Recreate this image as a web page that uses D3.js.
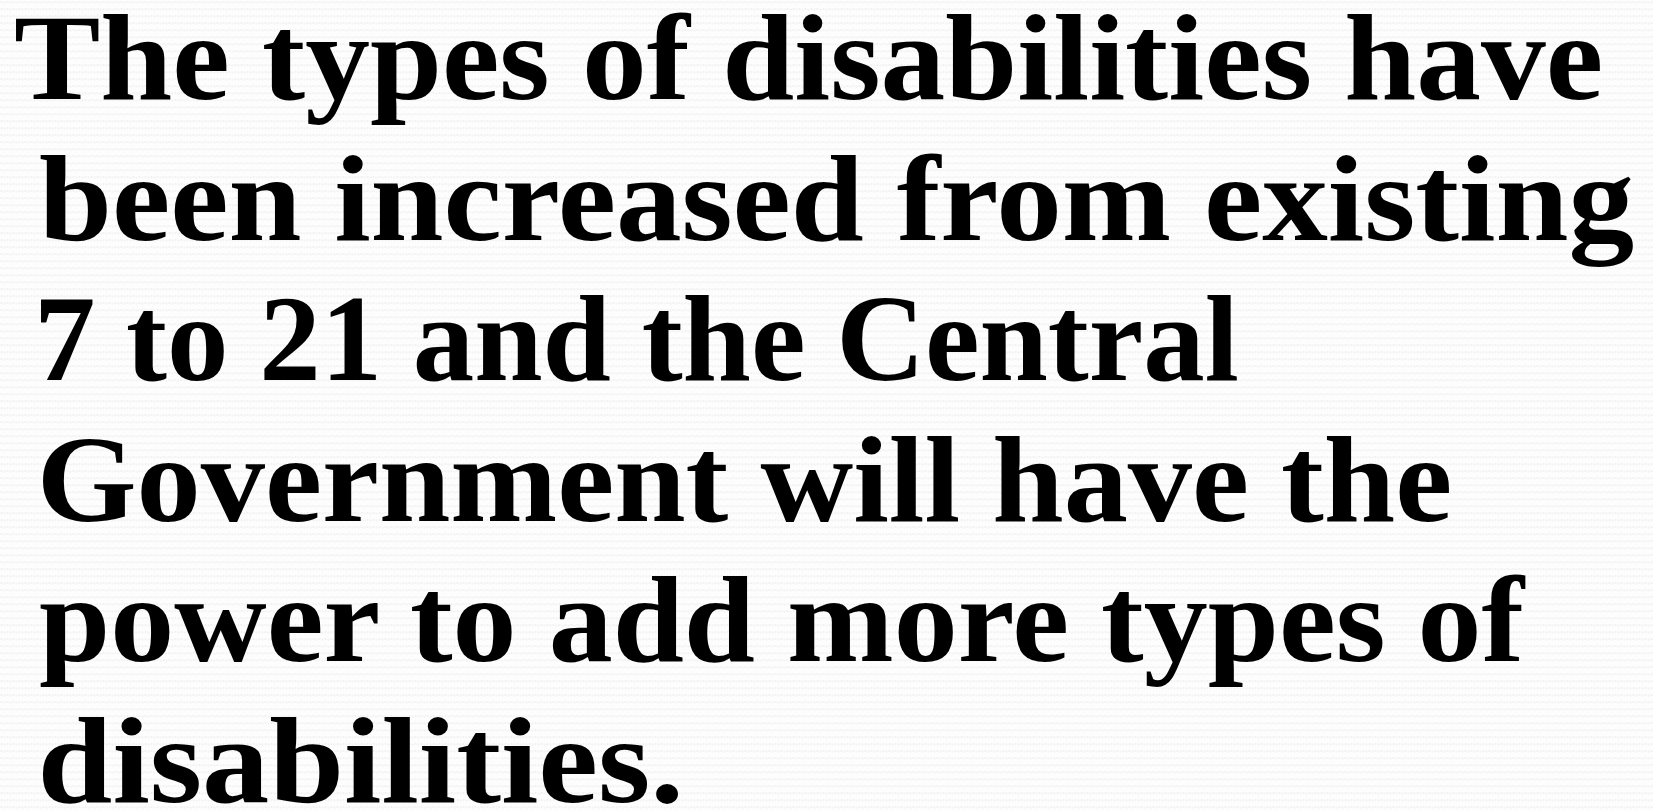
<!DOCTYPE html>
<html>
<head>
<meta charset="utf-8">
<script src="https://cdn.jsdelivr.net/npm/d3@7"></script>
<style>
  html, body { margin: 0; padding: 0; background: #ffffff; overflow: hidden; }
  svg { display: block; }
</style>
</head>
<body>
<svg id="chart" width="1653" height="811"></svg>
<script>
// ---- data: the text lines of the slide ----
const lines = [
  "The types of disabilities have",
  "been increased from existing",
  "7 to 21 and the Central",
  "Government will have the",
  "power to add more types of",
  "disabilities."
];

// ---- layout (ink extents) ----
const inkLeft  = [15, 40, 40, 42, 40, 42];
const inkRight = [1600, 1633, 1237, 1449, 1528, 679];
const firstBaseline = 99, lastBaseline = 802;
const fontSize = 122;
const fontFamily = "'Liberation Serif', 'DejaVu Serif', serif";

const svg = d3.select("#chart");
const W = 1653, H = 811;

// subtle dotted background texture
const defs = svg.append("defs");
const pat = defs.append("pattern")
  .attr("id", "dots").attr("width", 6).attr("height", 7)
  .attr("patternUnits", "userSpaceOnUse");
pat.append("rect").attr("width", 6).attr("height", 7).attr("fill", "#fdfdfd");
pat.append("circle").attr("cx", 1.5).attr("cy", 2).attr("r", 1.1).attr("fill", "#f1f1f1");
pat.append("circle").attr("cx", 4.5).attr("cy", 2.6).attr("r", 1.1).attr("fill", "#f3f3f3");
svg.append("rect").attr("width", W).attr("height", H).attr("fill", "url(#dots)");

const y = d3.scaleLinear().domain([0, lines.length - 1]).range([firstBaseline, lastBaseline]);

const ctx = document.createElement("canvas").getContext("2d");
ctx.font = `bold ${fontSize}px ${fontFamily}`;

const g = svg.append("g");
lines.forEach((t, i) => {
  const m = ctx.measureText(t);
  const left = m.actualBoundingBoxLeft;
  const inkW = m.actualBoundingBoxLeft + m.actualBoundingBoxRight;
  const sx = (inkRight[i] - inkLeft[i]) / inkW;
  g.append("text")
    .attr("transform", `translate(${inkLeft[i]},${y(i)}) scale(${sx},1)`)
    .attr("x", left)
    .attr("y", 0)
    .attr("font-family", fontFamily)
    .attr("font-weight", "bold")
    .attr("font-size", fontSize)
    .attr("fill", "#000")
    .text(t);
});
</script>
</body>
</html>
